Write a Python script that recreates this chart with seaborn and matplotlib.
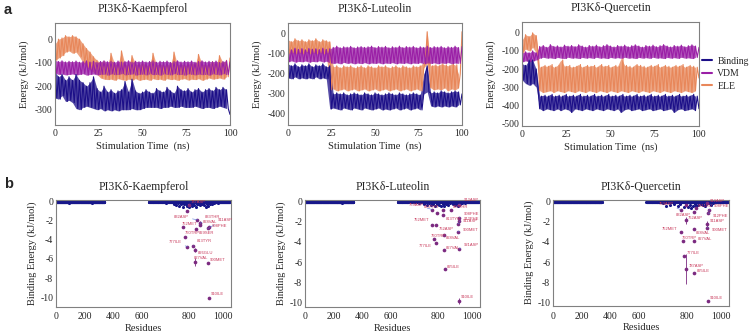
import numpy as np
import pandas as pd
import seaborn as sns
import matplotlib
matplotlib.use('Agg')
import matplotlib.pyplot as plt
from matplotlib.lines import Line2D

sns.set_theme(style='white')
plt.rcParams['font.family'] = ['Liberation Serif', 'DejaVu Serif']
plt.rcParams['axes.unicode_minus'] = False

time_ns = list(range(101))

kae_binding = [-140, -250, -160, -255, -150, -240, -175, -265, -160, -260, -175, -270,
               -150, -295, -175, -300, -185, -290, -200, -285, -185, -290, -160, -295,
               -210, -300, -225, -295, -200, -305, -225, -300, -215, -305, -230, -300,
               -220, -305, -215, -300, -180, -300, -225, -300, -170, -295, -220, -300,
               -230, -300, -225, -295, -215, -290, -225, -290, -230, -290, -210, -290,
               -220, -295, -225, -290, -205, -290, -220, -285, -230, -290, -200, -290,
               -215, -285, -220, -290, -210, -290, -225, -290, -215, -285, -210, -290,
               -225, -295, -215, -290, -210, -290, -220, -295, -205, -290, -215, -285,
               -205, -290, -215, -295, -320]
kae_vdm = [-90, -145, -95, -150, -92, -148, -97, -152, -94, -150,
           -96, -148, -93, -152, -98, -150, -95, -147, -92, -153,
           -97, -150, -94, -148, -99, -152, -95, -150, -92, -149,
           -96, -153, -94, -148, -98, -151, -93, -150, -97, -147,
           -95, -152, -92, -150, -98, -148, -94, -153, -96, -150,
           -93, -149, -97, -152, -95, -148, -92, -151, -98, -150,
           -94, -153, -96, -148, -93, -150, -99, -152, -95, -147,
           -92, -151, -97, -150, -94, -153, -96, -148, -93, -150,
           -98, -152, -95, -149, -92, -151, -97, -150, -94, -153,
           -96, -148, -93, -150, -99, -152, -95, -147, -92, -151, -97]
kae_ele = [-20, -90, 0, -80, 5, -70, 15, -55, 10, -50,
           15, -60, 10, -55, 0, -75, -20, -100, -40, -120,
           -55, -130, -75, -140, -90, -150, -100, -165, -95, -170,
           -110, -172, -60, -170, -105, -175, -110, -168, -50, -172,
           -108, -175, -112, -170, -70, -174, -105, -168, -110, -175,
           -100, -172, -112, -170, -108, -175, -60, -168, -110, -172,
           -105, -170, -112, -175, -108, -168, -110, -172, -55, -170,
           -110, -175, -105, -170, -112, -168, -108, -174, -100, -170,
           -110, -172, -65, -168, -105, -175, -110, -170, -108, -165,
           -95, -170, -110, -168, -70, -165, -100, -170, -90, -160, -80]

lut_binding = [-150, -220, -160, -225, -150, -215, -165, -225, -155, -220,
               -160, -225, -150, -220, -165, -225, -155, -215, -160, -225,
               -150, -220, -165, -225, -160, -375, -300, -370, -295, -375,
               -300, -380, -295, -370, -305, -375, -300, -380, -295, -370,
               -300, -375, -305, -380, -295, -370, -300, -375, -305, -380,
               -295, -375, -300, -370, -305, -380, -300, -375, -295, -380,
               -300, -375, -305, -370, -295, -380, -300, -375, -305, -370,
               -300, -380, -295, -375, -300, -370, -305, -380, -300, -200,
               -160, -290, -295, -360, -290, -365, -295, -360, -285, -365,
               -290, -360, -295, -365, -290, -360, -285, -365, -290, -355, -300]
lut_vdm = [-75, -140, -80, -135, -72, -142, -78, -138, -74, -140,
           -80, -136, -73, -142, -77, -138, -75, -140, -79, -135,
           -72, -141, -78, -137, -75,
           -145, -68, -148, -62, -145, -70, -150, -65, -143, -67,
           -148, -63, -145, -70, -150, -66, -146, -64, -149, -68,
           -144, -65, -150, -62, -146, -69, -148, -64, -145, -67,
           -150, -63, -146, -70, -148, -65, -144, -68, -150, -62,
           -146, -69, -148, -64, -145, -67, -150, -63, -146, -70,
           -148, -65, -144, -68, -150, -62, -146, -69, -148, -64,
           -145, -67, -150, -63, -146, -70, -148, -65, -144, -68,
           -150, -62, -146, -69, -148, -64]
lut_ele = [-30, -100, -40, -95, -25, -100, -35, -95, -30, -100,
           -40, -90, -30, -100, -35, -95, -25, -100, -40, -95,
           -30, -100, -35, -95, -40,
           -280, -165, -275, -160, -285, -170, -280, -160, -275, -165,
           -285, -160, -280, -170, -275, -165, -285, -160, -280, -170,
           -275, -160, -285, -165, -280, -170, -275, -160, -285, -165,
           -280, -160, -275, -170, -285, -165, -280, -160, -275, -170,
           -285, -160, -280, -165, -275, -170, -285, -160, -280, -165,
           -275, -160, -285, -170, -140, 10, -150, -270, -160, -280,
           -155, -275, -160, -280, -150, -270, -155, -285, -160, -275,
           -150, -280, -155, -270, -200, 10]

que_binding = [-170, -260, -180, -280, -150, -290, -150, -280, -200, -300,
               -420, -350, -430, -345, -420, -350, -425, -340, -430, -350,
               -420, -345, -430, -350, -420, -340, -425, -350, -440, -345,
               -420, -350, -425, -340, -430, -350, -420, -345, -425, -350,
               -430, -340, -420, -350, -425, -345, -430, -350, -420, -340,
               -425, -350, -430, -345, -420, -350, -440, -340, -425, -350,
               -420, -345, -430, -350, -425, -340, -420, -350, -430, -345,
               -425, -350, -420, -340, -430, -350, -425, -345, -420, -350,
               -430, -340, -425, -350, -420, -345, -440, -350, -425, -340,
               -420, -350, -430, -345, -425, -350, -420, -340, -430, -350, -420]
que_vdm = [-110, -160, -105, -155, -110, -160, -100, -155, -110, -150,
           -75, -140, -70, -135, -80, -140, -65, -138, -75, -142,
           -72, -136, -78, -140, -68, -142, -74, -135, -70, -140,
           -76, -138, -66, -142, -73, -136, -79, -140, -70, -137,
           -74, -141, -68, -135, -77, -140, -71, -138, -65, -142,
           -73, -136, -78, -140, -70, -137, -74, -141, -68, -135,
           -77, -140, -71, -138, -66, -142, -73, -136, -79, -140,
           -70, -137, -74, -141, -68, -135, -77, -140, -71, -138,
           -65, -142, -73, -136, -78, -140, -70, -137, -74, -141,
           -68, -135, -77, -140, -71, -138, -66, -142, -73, -136, -80]
que_ele = [-40, -110, -10, -90, -20, -100, 0, -80, -15, -110,
           -320, -190, -330, -180, -325, -185, -320, -175, -330, -190,
           -320, -180, -325, -150, -330, -185, -320, -180, -325, -190,
           -330, -185, -320, -175, -325, -190, -330, -180, -320, -185,
           -325, -180, -330, -190, -320, -175, -325, -185, -330, -180,
           -320, -190, -325, -180, -330, -185, -320, -140, -325, -180,
           -330, -185, -320, -190, -325, -175, -330, -180, -320, -185,
           -325, -190, -330, -180, -320, -185, -325, -175, -330, -190,
           -320, -180, -325, -185, -330, -190, -320, -180, -325, -185,
           -330, -175, -320, -190, -325, -180, -330, -185, -320, -190, -250]

# ---- b: per-residue decomposition ----
baseline_energy = -0.03
kae_dips = [(88, -0.12), (252, -0.1), (655, -0.08), (700, -0.12), (735, -0.2), (745, -0.35),
            (752, -0.15), (758, -0.45), (765, -0.25), (772, -0.55), (778, -0.3), (785, -0.2),
            (792, -0.45), (800, -0.6), (808, -0.3), (815, -0.5), (822, -0.25), (830, -0.4),
            (838, -0.55), (846, -0.3), (855, -0.2), (865, -0.4), (878, -0.25), (890, -0.35),
            (900, -0.55), (908, -0.3), (915, -0.45), (925, -0.2), (935, -0.3), (950, -0.15), (975, -0.1)]
lut_dips = [(90, -0.1), (255, -0.12), (680, -0.1), (720, -0.15), (740, -0.25), (752, -0.35),
            (760, -0.2), (770, -0.4), (778, -0.3), (786, -0.5), (795, -0.25), (805, -0.35),
            (815, -0.45), (825, -0.3), (835, -0.5), (845, -0.25), (858, -0.35), (870, -0.2),
            (885, -0.3), (897, -0.4), (905, -0.25), (915, -0.45), (928, -0.3), (940, -0.2),
            (960, -0.15), (985, -0.1)]
que_dips = [(90, -0.1), (258, -0.08), (700, -0.2), (712, -0.45), (730, -0.35), (745, -0.25),
            (760, -0.5), (772, -0.3), (785, -0.55), (795, -0.4), (805, -0.6), (815, -0.35),
            (825, -0.65), (835, -0.45), (845, -0.3), (855, -0.5), (868, -0.35), (880, -0.25),
            (895, -0.4), (905, -0.5), (915, -0.3), (928, -0.2), (940, -0.35), (955, -0.15), (980, -0.1)]

kae_res = [799, 792, 849, 865, 866, 772, 839, 920, 910, 783, 792, 825, 835, 835, 913, 920]
kae_val = [-0.35, -0.94, -1.9, -2.27, -2.4, -2.7, -2.9, -2.7, -2.8, -3.67, -4.72, -4.65, -5.07, -6.3, -6.4, -10.07]
kae_lab = ['787ASP', '', '832ASP', '833THR', '828VAL', '752MET', '829SER', '911ASP', '908PHE',
           '760TRP', '777ILE', '813TYR', '826GLU', '827VAL', '900MET', '910ILE']
kae_err = [0, 0, 0, 0.25, 0, 0, 0, 0, 0, 0, 0, 0, 0.2, 0.4, 0, 0]

lut_res = [775, 796, 825, 926, 875, 825, 926, 926, 916, 775, 791, 916, 835, 781, 789, 835, 926, 839, 926]
lut_val = [-0.82, -1.15, -0.82, -0.33, -0.82, -1.38, -1.61, -1.97, -2.2, -2.36, -2.36, -2.98,
           -3.28, -3.74, -4.1, -4.82, -4.66, -6.72, -9.84]
lut_lab = ['759ASP', '', '833THR', '912ASP', '837THR', '813TYR', '908PHE', '912PHE', '911ASP',
           '752MET', '762ASP', '900MET', '828VAL', '760TRP', '777ILE', '827VAL', '921ASP', '825ILE', '910ILE']
lut_err = [0, 0, 0, 0, 0, 0, 0, 0, 0, 0, 0, 0, 0, 0, 0, 0, 0, 0, 0.3]

que_res = [773, 794, 920, 928, 853, 843, 924, 794, 920, 920, 839, 773, 781, 843, 788, 797, 843, 924]
que_val = [-0.82, -0.33, -0.13, -0.89, -0.66, -1.05, -1.15, -1.87, -2.26, -2.59, -2.75, -3.02,
           -3.9, -3.9, -5.38, -6.69, -7.11, -9.9]
que_lab = ['759ASP', '', '912ASP', '908PHE', '831LEU', '832ASP', '912PHE', '762ASP', '911ASP',
           '900MET', '828VAL', '752MET', '760TRP', '827VAL', '777ILE', '787ASP', '825ILE', '910ILE']
que_err = [0, 0, 0, 0, 0, 0, 0, 0.35, 0.3, 0, 0, 0, 0, 0, 0, 1.45, 0, 0]

# label placement (points) for the residue tags
kae_off = [(1.5, 0.5), (0, 0), (-6, 0.5), (3, 3), (1.5, 0.5), (-1, 1.2), (2.5, -1), (6, 4), (3, 0), (-0.5, 1.2),
           (-4, 2), (2.5, 2.5), (2, -1), (-1, 1.5), (1.5, 0.5), (1, 1.2)]
lut_off = [(-6, 2), (0, 0), (-2.5, 0.8), (3, 2.2), (1.5, 0.5), (2.5, -1), (3, 1.2), (3, 0.5), (3.5, 0.3), (-2.5, 2),
           (1.5, -1.5), (3.5, 0), (1.5, -1), (-2, 1.2), (-2.5, -0.5), (1.5, 0), (3.5, 1.2), (1.5, 0.5), (1, 1.2)]
que_off = [(-5, 2.5), (0, 0), (1.5, 0), (3.5, 2), (1.5, 0), (-2.5, -1), (3.5, -1), (1.5, 0.5), (1.5, 0.5), (3, -0.5),
           (1.5, -1), (-2.5, 0.5), (-0.5, 0.3), (2.5, 0), (1.5, 0.5), (1.5, 0.5), (2, 0.5), (1, 1.2)]

# residue axis of panel b is stretched unevenly in the original
knot_res = [-100, 0, 200, 400, 600, 800, 1000, 1200]
knot_pos = [-0.1, 0, 0.175, 0.34, 0.515, 0.80, 1.0, 1.2]

c_bind, c_vdm, c_ele = '#1c0f88', '#9a1fa6', '#e8875a'
c_dot, c_key = '#17178a', '#7b2a80'
c_txt, c_lead = '#c8385a', '#5a78d8'
gray = '#808080'

W, H = 752, 335
fig = plt.figure(figsize=(W / 100, H / 100), dpi=100)


def add_ax(l, t, r, b):
    return fig.add_axes([l / W, 1 - b / H, (r - l) / W, (b - t) / H])


def style(ax, pad):
    for s in ax.spines.values():
        s.set_color(gray)
        s.set_linewidth(0.8)
    ax.tick_params(direction='in', length=2, width=0.6, color=gray, labelsize=7)
    ax.tick_params(axis='x', pad=pad)
    ax.tick_params(axis='y', pad=2)


top = [
    ('PI3Kδ-Kaempferol', (55, 22.7, 230, 125), kae_binding, kae_vdm, kae_ele, (-365, 70), [0, -100, -200, -300]),
    ('PI3Kδ-Luteolin', (288, 22.7, 462, 125), lut_binding, lut_vdm, lut_ele, (-455, 55), [0, -100, -200, -300, -400]),
    ('PI3Kδ-Quercetin', (522, 22, 699, 126), que_binding, que_vdm, que_ele, (-515, 60), [0, -100, -200, -300, -400, -500]),
]
for title, rect, b, v, e, ylim, yt in top:
    ax = add_ax(*rect)
    for vals, col in [(e, c_ele), (v, c_vdm), (b, c_bind)]:
        df = pd.DataFrame({'t': time_ns, 'E': vals})
        # local envelope of each pair of samples as a band, the raw trace on top
        df['win'] = df['t'] - df['t'] % 2
        sns.lineplot(data=df, x='win', y='E', estimator='mean', errorbar=('pi', 100), color=col,
                     lw=0, err_kws={'alpha': 0.75, 'lw': 0}, ax=ax)
        sns.lineplot(data=df, x='t', y='E', color=col, lw=0.8, estimator=None, sort=False, ax=ax)
    ax.set_xlim(0, 100)
    ax.set_ylim(*ylim)
    ax.set_xticks([0, 25, 50, 75, 100])
    ax.set_yticks(yt)
    ax.set_title(title, fontsize=8.5, pad=8)
    ax.set_xlabel('Stimulation Time  (ns)', fontsize=7.5, labelpad=2.5)
    ax.set_ylabel('Energy (kJ/mol)', fontsize=7.5, labelpad=4)
    style(ax, 3)

handles = [Line2D([], [], color=c, lw=1.5) for c in (c_bind, c_vdm, c_ele)]
fig.legend(handles, ['Binding', 'VDM', 'ELE'], loc='upper left', bbox_to_anchor=(693 / W, 1 - 48 / H),
           frameon=False, fontsize=7, handlelength=1.1, handletextpad=0.5, labelspacing=0.35)

fwd = lambda x: np.interp(x, knot_res, knot_pos)
inv = lambda y: np.interp(y, knot_pos, knot_res)

bottom = [
    ('PI3Kδ-Kaempferol', (56, 199.5, 231, 306.7), kae_dips, kae_res, kae_val, kae_lab, kae_err, kae_off, (-11.0, 0.22)),
    ('PI3Kδ-Luteolin', (305, 199.5, 480, 306.7), lut_dips, lut_res, lut_val, lut_lab, lut_err, lut_off, (-10.4, 0.18)),
    ('PI3Kδ-Quercetin', (553, 199.5, 729, 306), que_dips, que_res, que_val, que_lab, que_err, que_off, (-10.35, 0.18)),
]
for title, rect, dips, kr, kv, kl, ke, ko, ylim in bottom:
    ax = add_ax(*rect)
    ax.set_xscale('function', functions=(fwd, inv))
    res = list(range(1, 341)) + list(range(630, 1045))
    energy = dict.fromkeys(res, baseline_energy)
    energy.update(dict(dips))
    dots = pd.DataFrame({'res': list(energy.keys()), 'E': list(energy.values())})
    sns.scatterplot(data=dots, x='res', y='E', color=c_dot, s=5, linewidth=0, ax=ax)
    key = pd.DataFrame({'res': kr, 'E': kv, 'err': ke})
    bars = key[key['err'] > 0]
    ax.errorbar(bars['res'], bars['E'], yerr=bars['err'], fmt='none', ecolor=c_key, elinewidth=0.6)
    sns.scatterplot(data=key, x='res', y='E', color=c_key, s=7, linewidth=0, ax=ax)
    for r, y, lab, (dx, dy) in zip(kr, kv, kl, ko):
        if not lab:
            continue
        lead = abs(dx) > 2.5 or abs(dy) > 2
        ax.annotate(lab, (r, y), xytext=(dx, dy), textcoords='offset points', fontsize=3.0,
                    color=c_txt, family=['Liberation Sans', 'DejaVu Sans'],
                    ha='right' if dx < -2 else 'left', va='bottom' if dy >= 0 else 'top',
                    arrowprops=dict(arrowstyle='-', color=c_lead, lw=0.4, shrinkA=0, shrinkB=0) if lead else None)
    ax.set_xlim(0, 1050)
    ax.set_ylim(*ylim)
    ax.set_xticks([0, 200, 400, 600, 800, 1000])
    ax.set_xticklabels(['0', '200', '400', '600', '800', '1000'])
    ax.set_yticks([0, -2, -4, -6, -8, -10])
    ax.set_title(title, fontsize=8.5, pad=6.5)
    ax.set_xlabel('Residues', fontsize=7.5, labelpad=2)
    ax.set_ylabel('Binding Energy (kJ/mol)', fontsize=7.5, labelpad=2)
    style(ax, 4)

fig.text(4 / W, 1 - 14 / H, 'a', fontsize=10.5, fontweight='bold', family=['Liberation Sans', 'DejaVu Sans'])
fig.text(4 / W, 1 - 188 / H, 'b', fontsize=10.5, fontweight='bold', family=['Liberation Sans', 'DejaVu Sans'])

fig.savefig('out.png', dpi=100)
